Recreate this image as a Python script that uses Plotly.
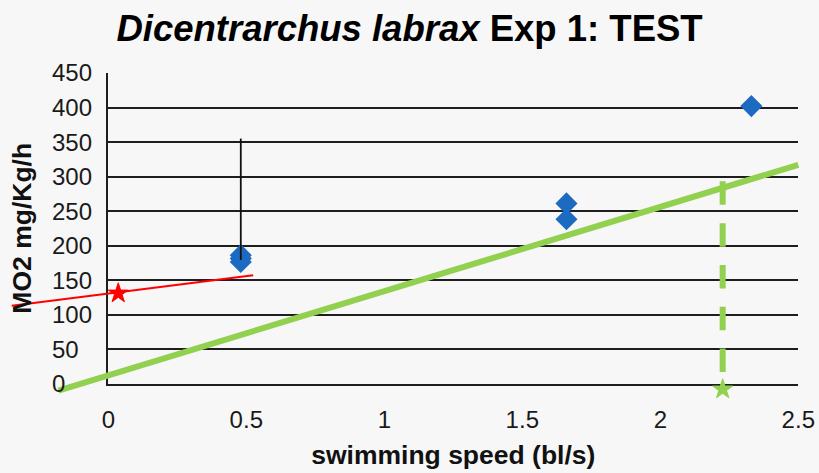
import plotly.graph_objects as go

# Measured oxygen consumption (MO2) against swimming speed
speed_05 = [0.48, 0.48, 0.48]
mo2_05 = [186, 181, 176]
speed_16 = [1.66, 1.66]
mo2_16 = [261, 238]
speed_23 = [2.33]
mo2_23 = [402]

# Annotation overlays (drawn on a full-figure axis sharing the same data scale)
fit_x = [-0.181, 2.5]          # green regression line
fit_y = [-10.4, 317]
smr_x = [-0.35, 0.525]         # red extrapolation line
smr_y = [112.8, 156.8]
smr_star_x = [0.036]
smr_star_y = [130.7]
ucrit_x = [2.226, 2.226]       # dashed drop line to the critical speed
ucrit_y = [293, 16]
ucrit_star_x = [2.226]
ucrit_star_y = [-8.4]
bar_x = [0.48, 0.48]           # vertical range bar at 0.5 bl/s
bar_y = [355, 179]

x_ticks = [0, 0.5, 1, 1.5, 2, 2.5]
x_tick_text = ["0", "0.5", "1", "1.5", "2", "2.5"]
y_ticks = [0, 50, 100, 150, 200, 250, 300, 350, 400, 450]

W, H = 819, 473
# plot area in pixels
PL, PR, PT, PB = 108.3, 798.3, 73.0, 383.5
YLABEL_LEFT = 50  # y tick labels are left-aligned at this pixel column
X_RANGE = [0, 2.5]
Y_RANGE = [0, 450]

dx0, dx1 = PL / W, PR / W
dy0, dy1 = (H - PB) / H, (H - PT) / H


def extend(r, d0, d1):
    span = (r[1] - r[0]) / (d1 - d0)
    return [r[0] - d0 * span, r[1] + (1 - d1) * span]


FONT = "Arial, 'Liberation Sans', sans-serif"
GREEN = "#92D050"
BLUE = "#1D6BC1"
GRID = "#1E1E1E"

fig = go.Figure()

for xs, ys in [(speed_05, mo2_05), (speed_16, mo2_16), (speed_23, mo2_23)]:
    fig.add_trace(go.Scatter(
        x=xs, y=ys, mode="markers",
        marker=dict(symbol="diamond", size=17, color=BLUE, line=dict(width=0)),
        cliponaxis=False, showlegend=False, hoverinfo="skip"))

over = dict(xaxis="x2", yaxis="y2", showlegend=False, hoverinfo="skip")
fig.add_trace(go.Scatter(x=fit_x, y=fit_y, mode="lines",
                         line=dict(color=GREEN, width=6), **over))
fig.add_trace(go.Scatter(x=smr_x, y=smr_y, mode="lines",
                         line=dict(color="#FF0000", width=2), **over))
fig.add_trace(go.Scatter(x=smr_star_x, y=smr_star_y, mode="markers",
                         marker=dict(symbol="star", size=15, color="#FF0000",
                                     line=dict(color="#FF0000", width=1)), **over))
fig.add_trace(go.Scatter(x=ucrit_x, y=ucrit_y, mode="lines",
                         line=dict(color=GREEN, width=6, dash="23.5px,18.3px"), **over))
fig.add_trace(go.Scatter(x=ucrit_star_x, y=ucrit_star_y, mode="markers",
                         marker=dict(symbol="star", size=15, color=GREEN,
                                     line=dict(color=GREEN, width=1)), **over))
fig.add_trace(go.Scatter(x=bar_x, y=bar_y, mode="lines",
                         line=dict(color="#111111", width=1.8), **over))

# y tick labels, left-aligned in a column left of the axis
for v in y_ticks:
    fig.add_annotation(
        x=YLABEL_LEFT / W, xref="paper", xanchor="left",
        y=v, yref="y", yanchor="middle",
        text=str(v), showarrow=False,
        font=dict(family=FONT, size=24, color="#1A1A1A"))

fig.update_layout(
    width=W, height=H,
    margin=dict(l=0, r=0, t=0, b=0),
    paper_bgcolor="#F7F7F7",
    plot_bgcolor="rgba(0,0,0,0)",
    font=dict(family=FONT, color="#1A1A1A"),
    title=dict(
        text="<b><i>Dicentrarchus labrax</i> Exp 1: TEST</b>",
        font=dict(family=FONT, size=36.5, color="#000000"),
        x=0.5, xanchor="center", xref="paper",
        y=1 - 28 / H, yanchor="middle", yref="container"),
    xaxis=dict(
        domain=[dx0, dx1], range=X_RANGE, anchor="y",
        tickvals=x_ticks, ticktext=x_tick_text, ticks="",
        tickfont=dict(size=24, color="#1A1A1A"),
        ticklabelstandoff=14,
        showgrid=False, zeroline=False,
        showline=True, linecolor=GRID, linewidth=1.6,
        title=dict(text="<b>swimming speed (bl/s)</b>",
                   font=dict(size=26.5, color="#111111"), standoff=13),
        automargin=False, fixedrange=True),
    yaxis=dict(
        domain=[dy0, dy1], range=Y_RANGE, anchor="x",
        tickvals=y_ticks, ticks="", showticklabels=False,
        showgrid=True, gridcolor=GRID, gridwidth=1.6,
        zeroline=False,
        showline=True, linecolor=GRID, linewidth=1.6,
        title=dict(text="<b>MO2 mg/Kg/h</b>",
                   font=dict(size=26.5, color="#111111"), standoff=67),
        automargin=False, fixedrange=True),
    xaxis2=dict(domain=[0, 1], range=extend(X_RANGE, dx0, dx1), anchor="y2",
                visible=False, fixedrange=True),
    yaxis2=dict(domain=[0, 1], range=extend(Y_RANGE, dy0, dy1), anchor="x2",
                visible=False, fixedrange=True),
)

fig.write_html("out.html")
